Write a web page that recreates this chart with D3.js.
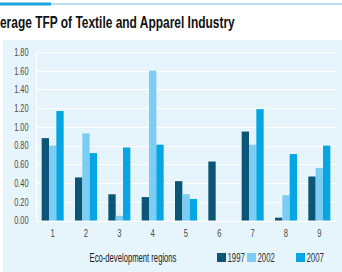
<!DOCTYPE html>
<html><head><meta charset="utf-8">
<script src="https://cdn.jsdelivr.net/npm/d3@7"></script>
<style>
body{margin:0;padding:0;background:#fff;}
svg{display:block;}
text{font-family:"Liberation Sans",Arial,sans-serif;}
</style></head>
<body>
<script>
const categories = ["1","2","3","4","5","6","7","8","9"];
const seriesNames = ["1997","2002","2007"];
const v1997 = [0.88,0.46,0.28,0.25,0.42,0.63,0.95,0.03,0.47];
const v2002 = [0.80,0.93,0.05,1.60,0.28,0,0.81,0.27,0.56];
const v2007 = [1.17,0.72,0.78,0.81,0.23,0,1.19,0.71,0.80];
const yTicks = [0,0.2,0.4,0.6,0.8,1.0,1.2,1.4,1.6,1.8];
const title = "Average TFP of Textile and Apparel Industry";
const xTitle = "Eco-development regions";
const colors = ["#0b5577","#7ccdf3","#05a6e3"];

const W=342,H=272;
const S=0.7; // horizontal condense factor
const svg=d3.select("body").append("svg").attr("width",W).attr("height",H);

function measure(str,size,weight){
  const tmp=svg.append("text").attr("font-size",size).attr("font-weight",weight||"normal").text(str);
  const w=tmp.node().getComputedTextLength(); tmp.remove(); return w;
}

// top rule
svg.append("rect").attr("x",0).attr("y",3).attr("width",W).attr("height",2).attr("fill","#b9e0f1");
svg.append("rect").attr("x",0).attr("y",2.5).attr("width",51).attr("height",3).attr("fill","#1aa3e0");

// title (cut at left edge as in reference)
const tSize=16.5;
const fullW=measure(title,tSize,"bold"), avW=measure("Av",tSize,"bold");
const ts=235/(fullW-avW);
svg.append("text").attr("transform",`translate(${-avW*ts},27.5) scale(${ts},1)`)
  .attr("font-size",tSize).attr("font-weight","bold").attr("fill","#111").text(title);

// panel
svg.append("rect").attr("x",3).attr("y",40).attr("width",W-3).attr("height",H-40).attr("fill","#e6f4fc");

const x0=d3.scaleBand().domain(categories).range([36,336]).paddingInner(0.34).paddingOuter(0.17);
const x1=d3.scaleBand().domain(seriesNames).range([0,x0.bandwidth()]);
const y=d3.scaleLinear().domain([0,1.8]).range([220.5,52]);

// gridlines
svg.append("g").selectAll("line").data(yTicks).join("line")
  .attr("x1",36).attr("x2",336).attr("y1",d=>Math.round(y(d))+0.5).attr("y2",d=>Math.round(y(d))+0.5)
  .attr("stroke","#ffffff").attr("stroke-width",1.2);
svg.append("line").attr("x1",36.5).attr("x2",36.5).attr("y1",52).attr("y2",221).attr("stroke","#fff").attr("stroke-width",1.2);

// y axis
const yAxis=d3.axisLeft(y).tickValues(yTicks).tickFormat(d3.format(".2f")).tickSize(0).tickPadding(0);
const ga=svg.append("g").attr("transform","translate(28.5,0)").call(yAxis);
ga.select(".domain").remove();
ga.selectAll("text").attr("font-size",10.5).attr("fill","#4a4a4a").attr("font-family",null)
  .attr("transform",`scale(${S},1)`);

// bars
const data=categories.map((c,i)=>({c,vals:[v1997[i],v2002[i],v2007[i]]}));
svg.append("g").selectAll("g").data(data).join("g")
  .attr("transform",d=>`translate(${x0(d.c)},0)`)
  .selectAll("rect").data(d=>d.vals.map((v,k)=>({k,v}))).join("rect")
  .attr("x",d=>x1(seriesNames[d.k])).attr("width",x1.bandwidth())
  .attr("y",d=>y(d.v)).attr("height",d=>y(0)-y(d.v))
  .attr("fill",d=>colors[d.k]);

// x axis
const xAxis=d3.axisBottom(x0).tickSize(0).tickPadding(0);
const gx=svg.append("g").attr("transform","translate(0,229)").call(xAxis);
gx.select(".domain").remove();
gx.selectAll("text").attr("font-size",11).attr("fill","#4a4a4a").attr("font-family",null)
  .attr("transform",`scale(${S},1)`);

// x title
const xtW=measure(xTitle,12.5);
const xs=87/xtW;
svg.append("text").attr("transform",`translate(133,262) scale(${xs},1)`).attr("text-anchor","middle")
  .attr("font-size",12.5).attr("fill","#222").text(xTitle);

// legend
const legX=[217,247,296];
const lg=svg.append("g").selectAll("g").data(seriesNames).join("g").attr("transform",(d,i)=>`translate(${legX[i]},253)`);
lg.append("rect").attr("width",9).attr("height",9).attr("fill",(d,i)=>colors[i]);
const lw=measure("1997",12.5);
lg.append("text").attr("transform",`translate(10.5,9.2) scale(${17.5/lw},1)`).attr("font-size",12.5).attr("fill","#333").text(d=>d);
</script>
</body></html>
